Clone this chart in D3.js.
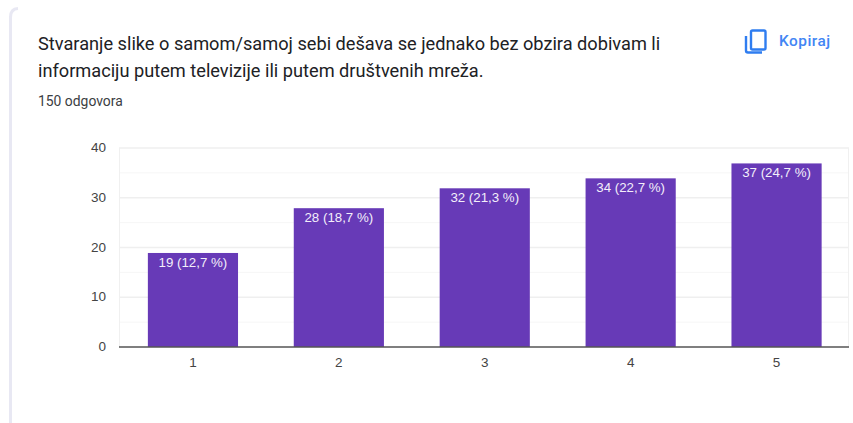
<!DOCTYPE html>
<html><head><meta charset="utf-8">
<script src="https://cdn.jsdelivr.net/npm/d3@7"></script>
<style>html,body{margin:0;padding:0;background:#fff}svg{display:block}</style>
</head><body><div id="c"></div>
<script>
const categories = ["1","2","3","4","5"];
const counts = [19,28,32,34,37];
const labels = ["19 (12,7 %)","28 (18,7 %)","32 (21,3 %)","34 (22,7 %)","37 (24,7 %)"];
const majorTicks = [0,10,20,30,40];
const minorTicks = [5,15,25,35];
const titleLines = ["Stvaranje slike o samom/samoj sebi dešava se jednako bez obzira dobivam li","informaciju putem televizije ili putem društvenih mreža."];
const subtitle = "150 odgovora";
const copyLabel = "Kopiraj";

const svg = d3.select("#c").append("svg").attr("width",853).attr("height",423);
const F = "Roboto, sans-serif", A = "'Liberation Sans', Arial, sans-serif";

// card edge
svg.append("path").attr("d","M10.5 423V17Q10.5 9 18 8.5").attr("fill","none").attr("stroke","#e8e8f3").attr("stroke-width",3);

svg.selectAll("text.title").data(titleLines).join("text").attr("class","title")
  .attr("x",38).attr("y",(d,i)=>[50,77][i]).attr("font-family",F).attr("font-size",18.2)
  .attr("fill","#202124").text(d=>d);
svg.append("text").attr("x",38).attr("y",106).attr("font-family",F).attr("font-size",13.9).attr("fill","#3c4043").text(subtitle);

// copy icon
const icon = svg.append("g").attr("fill","none").attr("stroke","#2f7df0").attr("stroke-width",2.4);
icon.append("rect").attr("x",751).attr("y",30.5).attr("width",14.5).attr("height",19).attr("rx",1.5);
icon.append("path").attr("d","M746 36V50.5Q746 52.5 748 52.5H762");
svg.append("text").attr("x",779).attr("y",46).attr("font-family",F).attr("font-size",15.4).attr("font-weight",500)
  .attr("letter-spacing",0.5).attr("fill","#4285f4").text(copyLabel);

const x = d3.scaleBand().domain(categories).range([120,849.5]).paddingInner(0.382).paddingOuter(0.191);
const y = d3.scaleLinear().domain([0,40]).range([347,148]);

const g = svg.append("g");
g.selectAll("line.minor").data(minorTicks).join("line").attr("x1",119).attr("x2",849)
  .attr("y1",d=>y(d)).attr("y2",d=>y(d)).attr("stroke","#f6f6f6");
g.selectAll("line.major").data(majorTicks.slice(1)).join("line").attr("x1",119).attr("x2",849)
  .attr("y1",d=>y(d)).attr("y2",d=>y(d)).attr("stroke","#efefef").attr("stroke-width",1.5);
g.append("line").attr("x1",119.5).attr("x2",119.5).attr("y1",148).attr("y2",347).attr("stroke","#f0f0f0");
g.append("line").attr("x1",848.5).attr("x2",848.5).attr("y1",148).attr("y2",347).attr("stroke","#f0f0f0");

g.selectAll("rect.bar").data(counts).join("rect").attr("class","bar")
  .attr("x",(d,i)=>x(categories[i])).attr("width",x.bandwidth())
  .attr("y",d=>y(d)+0.5).attr("height",d=>y(0)-y(d)-0.5).attr("fill","#673ab7");

g.selectAll("text.val").data(counts).join("text").attr("class","val")
  .attr("x",(d,i)=>x(categories[i])+x.bandwidth()/2).attr("y",d=>y(d)+14.5)
  .attr("text-anchor","middle").attr("font-family",A).attr("font-size",13.3).attr("fill","#f3eefa")
  .text((d,i)=>labels[i]);

const ya = d3.axisLeft(y).tickValues(majorTicks).tickSize(0).tickPadding(0);
const yg = svg.append("g").attr("transform","translate(106,-0.7)").call(ya);
yg.select(".domain").remove();
yg.selectAll("text").attr("font-family",A).attr("font-size",13.5).attr("fill","#444");

const xa = d3.axisBottom(x).tickSize(0).tickPadding(0);
const xg = svg.append("g").attr("transform","translate(0,357)").call(xa);
xg.select(".domain").remove();
xg.selectAll("text").attr("font-family",A).attr("font-size",13.5).attr("fill","#444");

svg.append("line").attr("x1",119).attr("x2",849).attr("y1",347).attr("y2",347).attr("stroke","#555").attr("stroke-width",1.3);
</script></body></html>
